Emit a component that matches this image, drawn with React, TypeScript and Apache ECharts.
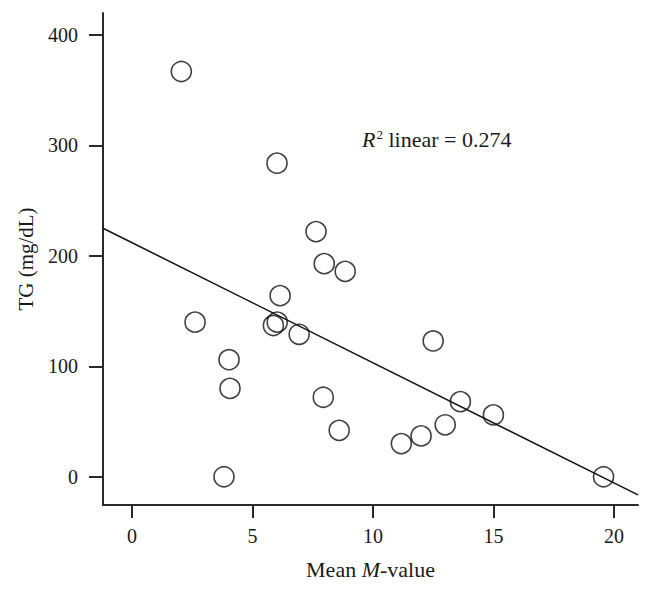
import React, { useEffect, useRef } from "react";
import * as echarts from "echarts";

// Data (Mean M-value, TG mg/dL)
const mValues = [2.05, 6.02, 7.64, 7.98, 8.85, 6.15, 2.62, 5.87, 6.03, 6.94, 4.03, 4.07, 3.82, 7.94, 8.6, 12.5, 13.63, 15.0, 13.0, 12.0, 11.18, 19.57];
const tgValues = [367, 284, 222, 193, 186, 164, 140, 137, 140, 129, 106, 80, 0, 72, 42, 123, 68, 56, 47, 37, 30, 0];

// Fitted linear regression
const fitIntercept = 212;
const fitSlope = -10.88;
const r2Text = "0.274";

const xTicks = [0, 5, 10, 15, 20];
const yTicks = [0, 100, 200, 300, 400];
const xMin = -1.2;
const xMax = 21;
const yMin = -25.6;
const yMax = 420;

const FONT = "'Liberation Serif', 'DejaVu Serif', serif";
const INK = "#1a1a1a";

export default function App() {
  const ref = useRef<HTMLDivElement>(null);
  useEffect(() => {
    if (!ref.current) return;
    const chart = echarts.init(ref.current, null, { renderer: "svg" });
    const points = mValues.map((m, i) => [m, tgValues[i]]);
    const fitLine = [xMin, xMax].map((x) => [x, fitIntercept + fitSlope * x]);
    const axisCommon = {
      axisLine: { show: true, onZero: false, lineStyle: { color: "#2a2a2a", width: 2 } },
      axisTick: { show: true, inside: false, length: 14, lineStyle: { color: "#2a2a2a", width: 2 } },
      splitLine: { show: false },
    };
    chart.setOption({
      animation: false,
      backgroundColor: "#ffffff",
      grid: { left: 103, top: 13, right: 14, bottom: 84, containLabel: false },
      xAxis: {
        type: "value",
        min: xMin,
        max: xMax,
        ...axisCommon,
        axisTick: { ...axisCommon.axisTick, length: 13, customValues: xTicks },
        axisLabel: { customValues: xTicks, color: INK, fontFamily: FONT, fontSize: 20, margin: 21 },
        name: "{n|Mean }{i|M}{n|-value}",
        nameLocation: "middle",
        nameGap: 53,
        nameTextStyle: {
          rich: {
            n: { fontFamily: FONT, fontSize: 22, color: INK },
            i: { fontFamily: FONT, fontSize: 22, color: INK, fontStyle: "italic" },
          },
        },
      },
      yAxis: {
        type: "value",
        min: yMin,
        max: yMax,
        ...axisCommon,
        axisTick: { ...axisCommon.axisTick, customValues: yTicks },
        axisLabel: { customValues: yTicks, color: INK, fontFamily: FONT, fontSize: 20, margin: 25 },
        name: "TG (mg/dL)",
        nameLocation: "middle",
        nameGap: 67,
        nameTextStyle: { fontFamily: FONT, fontSize: 21, color: INK },
      },
      graphic: [
        {
          type: "text",
          left: 362,
          top: 128,
          style: {
            text: "{i|R}{s|2}{n| linear = " + r2Text + "}",
            rich: {
              i: { fontFamily: FONT, fontSize: 22, fontStyle: "italic", fill: INK, verticalAlign: "bottom" },
              s: { fontFamily: FONT, fontSize: 13, fill: INK, verticalAlign: "bottom", padding: [0, 0, 9, 1] },
              n: { fontFamily: FONT, fontSize: 22, fill: INK, verticalAlign: "bottom" },
            },
          },
        },
      ],
      series: [
        {
          type: "line",
          data: fitLine,
          symbol: "none",
          lineStyle: { color: "#111", width: 1.5 },
          silent: true,
          z: 2,
        },
        {
          type: "scatter",
          data: points,
          symbol: "circle",
          symbolSize: 20,
          itemStyle: { color: "rgba(255,255,255,0)", borderColor: "#111", borderWidth: 1.6 },
          z: 3,
        },
      ],
    });
    return () => chart.dispose();
  }, []);
  return <div ref={ref} style={{ width: 652, height: 589, position: "absolute", left: 0, top: 0 }} />;
}
